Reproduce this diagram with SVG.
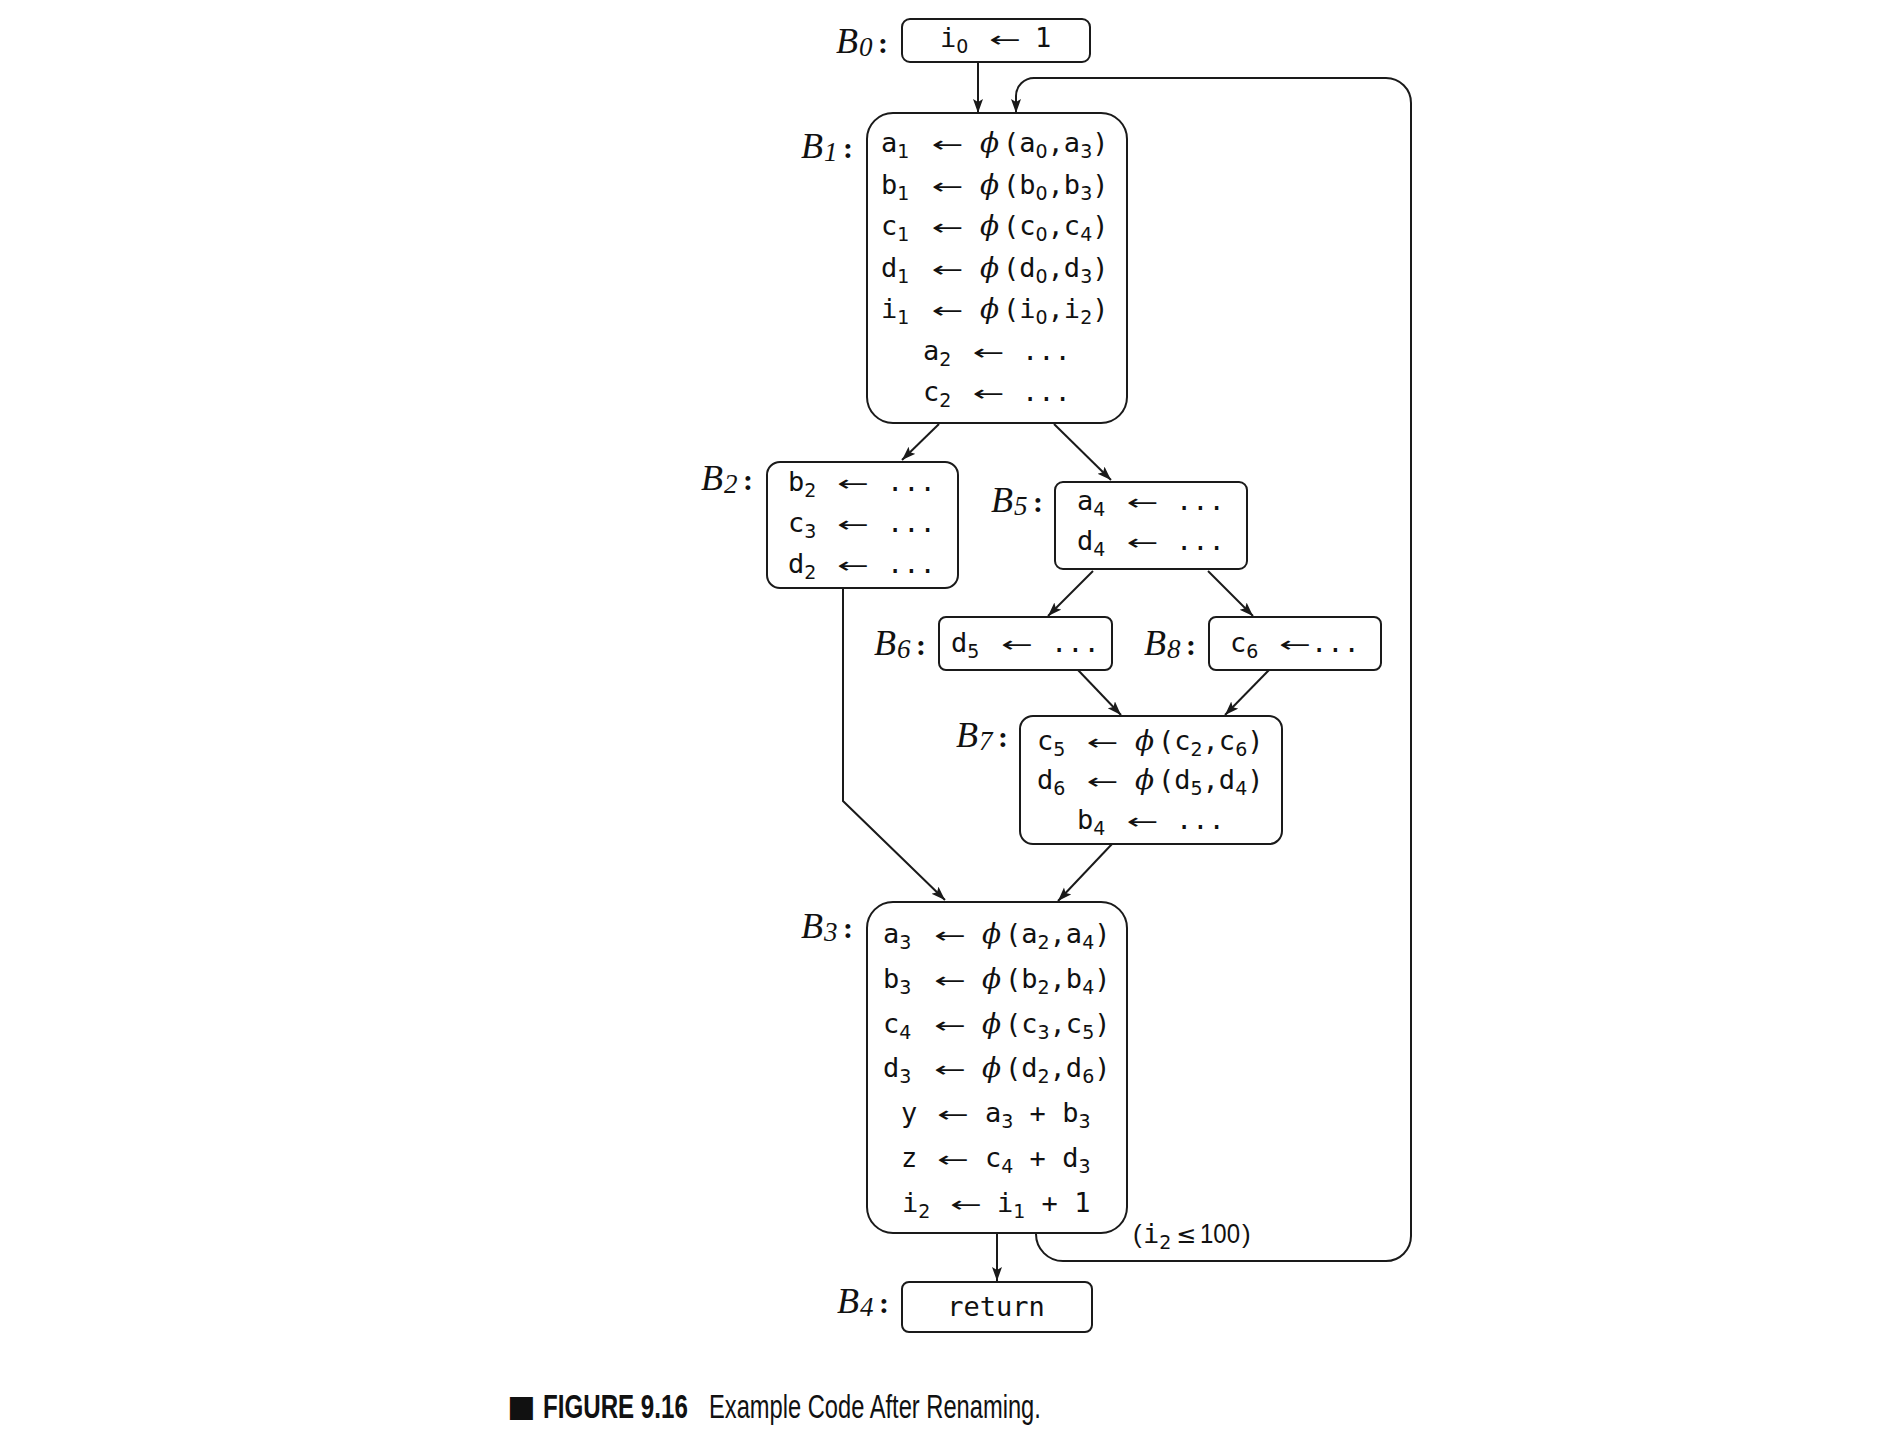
<svg xmlns="http://www.w3.org/2000/svg" width="1904" height="1440" viewBox="0 0 1904 1440">
<style>
.box{fill:#fff;stroke:#1a1a1a;stroke-width:2}
.edge{fill:none;stroke:#1a1a1a;stroke-width:2}
.c{font-family:"DejaVu Sans Mono",monospace;font-size:27px;fill:#111;white-space:pre}
.s{font-family:"DejaVu Sans",sans-serif;font-size:19px}
.ar{font-family:"DejaVu Sans",sans-serif;font-size:22px;fill:#111;text-anchor:middle}
.phi{font-family:"DejaVu Serif",serif;font-style:italic;font-size:28px}
.lb{font-family:"Liberation Serif",serif;font-style:italic;font-size:36px;fill:#111}
.ls{font-size:27px}
.col{font-family:"Liberation Serif",serif;font-style:normal;font-weight:bold;font-size:30px;fill:#111}
.cap{font-family:"Liberation Sans",sans-serif;font-size:34px;fill:#111}
</style>
<defs>
<marker id="ah" markerUnits="userSpaceOnUse" markerWidth="16" markerHeight="12" refX="14" refY="5" orient="auto">
<path d="M0,0 L14,5 L0,10 L3,5 z" fill="#1a1a1a"/>
</marker>
</defs>

<g id="edges">
<path class="edge" marker-end="url(#ah)" d="M978 62 V113"/>
<path class="edge" marker-end="url(#ah)" d="M1036 1234 A27 27 0 0 0 1063 1261 H1386 A25 25 0 0 0 1411 1236 V103 A25 25 0 0 0 1386 78 H1034 A18 18 0 0 0 1016 96 V113"/>
<path class="edge" marker-end="url(#ah)" d="M939 424 L902 460"/>
<path class="edge" marker-end="url(#ah)" d="M1054 424 L1111 480"/>
<path class="edge" marker-end="url(#ah)" d="M843 588 V801 L945 900"/>
<path class="edge" marker-end="url(#ah)" d="M1093 571 L1048 616"/>
<path class="edge" marker-end="url(#ah)" d="M1208 571 L1253 616"/>
<path class="edge" marker-end="url(#ah)" d="M1078 670 L1121 715"/>
<path class="edge" marker-end="url(#ah)" d="M1269 670 L1225 715"/>
<path class="edge" marker-end="url(#ah)" d="M1112 844 L1058 901"/>
<path class="edge" marker-end="url(#ah)" d="M997 1234 V1281"/>
<text class="c" y="1243"><tspan x="1133" style="font-family:'Liberation Sans',sans-serif;font-size:26px">(</tspan><tspan x="1143">i</tspan><tspan class="s" y="1249">2</tspan><tspan x="1176" y="1243" style="font-family:'DejaVu Sans',sans-serif;font-size:24px">≤</tspan><tspan x="1200" style="font-family:'Liberation Sans',sans-serif;font-size:27px" textLength="40" lengthAdjust="spacingAndGlyphs">100</tspan><tspan x="1242" style="font-family:'Liberation Sans',sans-serif;font-size:26px">)</tspan></text>
</g>

<g id="B0">
<rect class="box" x="902" y="19" width="188" height="43" rx="8"/>
<text class="lb" x="836" y="53">B<tspan class="ls" dx="1" y="56">0</tspan></text><text class="col" x="878" y="53">:</text>
<text class="c" y="47"><tspan x="940">i</tspan><tspan class="s" y="53">0</tspan><tspan x="1035" y="47">1</tspan></text>
<text class="ar" x="1005" y="47" textLength="32" lengthAdjust="spacingAndGlyphs">←</text>
</g>

<g id="B1">
<rect class="box" x="867" y="113" width="260" height="310" rx="26"/>
<text class="lb" x="801" y="158">B<tspan class="ls" dx="1" y="161">1</tspan></text><text class="col" x="843" y="158">:</text>
<text class="c" y="152"><tspan x="881">a</tspan><tspan class="s" y="158">1</tspan><tspan class="phi" x="980" y="152">ϕ</tspan><tspan x="1003">(a</tspan><tspan class="s" y="158">0</tspan><tspan y="152">,a</tspan><tspan class="s" y="158">3</tspan><tspan y="152">)</tspan></text>
<text class="ar" x="947.5" y="152" textLength="32" lengthAdjust="spacingAndGlyphs">←</text>
<text class="c" y="194"><tspan x="881">b</tspan><tspan class="s" y="200">1</tspan><tspan class="phi" x="980" y="194">ϕ</tspan><tspan x="1003">(b</tspan><tspan class="s" y="200">0</tspan><tspan y="194">,b</tspan><tspan class="s" y="200">3</tspan><tspan y="194">)</tspan></text>
<text class="ar" x="947.5" y="194" textLength="32" lengthAdjust="spacingAndGlyphs">←</text>
<text class="c" y="235"><tspan x="881">c</tspan><tspan class="s" y="241">1</tspan><tspan class="phi" x="980" y="235">ϕ</tspan><tspan x="1003">(c</tspan><tspan class="s" y="241">0</tspan><tspan y="235">,c</tspan><tspan class="s" y="241">4</tspan><tspan y="235">)</tspan></text>
<text class="ar" x="947.5" y="235" textLength="32" lengthAdjust="spacingAndGlyphs">←</text>
<text class="c" y="277"><tspan x="881">d</tspan><tspan class="s" y="283">1</tspan><tspan class="phi" x="980" y="277">ϕ</tspan><tspan x="1003">(d</tspan><tspan class="s" y="283">0</tspan><tspan y="277">,d</tspan><tspan class="s" y="283">3</tspan><tspan y="277">)</tspan></text>
<text class="ar" x="947.5" y="277" textLength="32" lengthAdjust="spacingAndGlyphs">←</text>
<text class="c" y="318"><tspan x="881">i</tspan><tspan class="s" y="324">1</tspan><tspan class="phi" x="980" y="318">ϕ</tspan><tspan x="1003">(i</tspan><tspan class="s" y="324">0</tspan><tspan y="318">,i</tspan><tspan class="s" y="324">2</tspan><tspan y="318">)</tspan></text>
<text class="ar" x="947.5" y="318" textLength="32" lengthAdjust="spacingAndGlyphs">←</text>
<text class="c" y="360"><tspan x="923">a</tspan><tspan class="s" y="366">2</tspan><tspan x="1022" y="360">...</tspan></text>
<text class="ar" x="988.5" y="360" textLength="32" lengthAdjust="spacingAndGlyphs">←</text>
<text class="c" y="401"><tspan x="923">c</tspan><tspan class="s" y="407">2</tspan><tspan x="1022" y="401">...</tspan></text>
<text class="ar" x="988.5" y="401" textLength="32" lengthAdjust="spacingAndGlyphs">←</text>
</g>

<g id="B2">
<rect class="box" x="767" y="462" width="191" height="126" rx="13"/>
<text class="lb" x="701" y="490">B<tspan class="ls" dx="1" y="493">2</tspan></text><text class="col" x="743" y="490">:</text>
<text class="c" y="491"><tspan x="788">b</tspan><tspan class="s" y="497">2</tspan><tspan x="887" y="491">...</tspan></text>
<text class="ar" x="853" y="491" textLength="32" lengthAdjust="spacingAndGlyphs">←</text>
<text class="c" y="532"><tspan x="788">c</tspan><tspan class="s" y="538">3</tspan><tspan x="887" y="532">...</tspan></text>
<text class="ar" x="853" y="532" textLength="32" lengthAdjust="spacingAndGlyphs">←</text>
<text class="c" y="573"><tspan x="788">d</tspan><tspan class="s" y="579">2</tspan><tspan x="887" y="573">...</tspan></text>
<text class="ar" x="853" y="573" textLength="32" lengthAdjust="spacingAndGlyphs">←</text>
</g>

<g id="B5">
<rect class="box" x="1055" y="482" width="192" height="87" rx="8"/>
<text class="lb" x="991" y="512">B<tspan class="ls" dx="1" y="515">5</tspan></text><text class="col" x="1033" y="512">:</text>
<text class="c" y="510"><tspan x="1077">a</tspan><tspan class="s" y="516">4</tspan><tspan x="1176" y="510">...</tspan></text>
<text class="ar" x="1142.5" y="510" textLength="32" lengthAdjust="spacingAndGlyphs">←</text>
<text class="c" y="550"><tspan x="1077">d</tspan><tspan class="s" y="556">4</tspan><tspan x="1176" y="550">...</tspan></text>
<text class="ar" x="1142.5" y="550" textLength="32" lengthAdjust="spacingAndGlyphs">←</text>
</g>

<g id="B6">
<rect class="box" x="939" y="617" width="173" height="53" rx="7"/>
<text class="lb" x="874" y="655">B<tspan class="ls" dx="1" y="658">6</tspan></text><text class="col" x="916" y="655">:</text>
<text class="c" y="652"><tspan x="951">d</tspan><tspan class="s" y="658">5</tspan><tspan x="1051" y="652">...</tspan></text>
<text class="ar" x="1017" y="652" textLength="32" lengthAdjust="spacingAndGlyphs">←</text>
</g>

<g id="B8">
<rect class="box" x="1209" y="617" width="172" height="53" rx="7"/>
<text class="lb" x="1144" y="655">B<tspan class="ls" dx="1" y="658">8</tspan></text><text class="col" x="1186" y="655">:</text>
<text class="c" y="652"><tspan x="1230">c</tspan><tspan class="s" y="658">6</tspan><tspan x="1311" y="652">...</tspan></text>
<text class="ar" x="1295" y="652" textLength="32" lengthAdjust="spacingAndGlyphs">←</text>
</g>

<g id="B7">
<rect class="box" x="1020" y="716" width="262" height="128" rx="13"/>
<text class="lb" x="956" y="747">B<tspan class="ls" dx="1" y="750">7</tspan></text><text class="col" x="998" y="747">:</text>
<text class="c" y="750"><tspan x="1037">c</tspan><tspan class="s" y="756">5</tspan><tspan class="phi" x="1135" y="750">ϕ</tspan><tspan x="1158">(c</tspan><tspan class="s" y="756">2</tspan><tspan y="750">,c</tspan><tspan class="s" y="756">6</tspan><tspan y="750">)</tspan></text>
<text class="ar" x="1102.5" y="750" textLength="32" lengthAdjust="spacingAndGlyphs">←</text>
<text class="c" y="789"><tspan x="1037">d</tspan><tspan class="s" y="795">6</tspan><tspan class="phi" x="1135" y="789">ϕ</tspan><tspan x="1158">(d</tspan><tspan class="s" y="795">5</tspan><tspan y="789">,d</tspan><tspan class="s" y="795">4</tspan><tspan y="789">)</tspan></text>
<text class="ar" x="1102.5" y="789" textLength="32" lengthAdjust="spacingAndGlyphs">←</text>
<text class="c" y="829"><tspan x="1077">b</tspan><tspan class="s" y="835">4</tspan><tspan x="1176" y="829">...</tspan></text>
<text class="ar" x="1142.5" y="829" textLength="32" lengthAdjust="spacingAndGlyphs">←</text>
</g>

<g id="B3">
<rect class="box" x="867" y="902" width="260" height="331" rx="26"/>
<text class="lb" x="801" y="938">B<tspan class="ls" dx="1" y="941">3</tspan></text><text class="col" x="843" y="938">:</text>
<text class="c" y="943"><tspan x="883">a</tspan><tspan class="s" y="949">3</tspan><tspan class="phi" x="982" y="943">ϕ</tspan><tspan x="1005">(a</tspan><tspan class="s" y="949">2</tspan><tspan y="943">,a</tspan><tspan class="s" y="949">4</tspan><tspan y="943">)</tspan></text>
<text class="ar" x="950" y="943" textLength="32" lengthAdjust="spacingAndGlyphs">←</text>
<text class="c" y="988"><tspan x="883">b</tspan><tspan class="s" y="994">3</tspan><tspan class="phi" x="982" y="988">ϕ</tspan><tspan x="1005">(b</tspan><tspan class="s" y="994">2</tspan><tspan y="988">,b</tspan><tspan class="s" y="994">4</tspan><tspan y="988">)</tspan></text>
<text class="ar" x="950" y="988" textLength="32" lengthAdjust="spacingAndGlyphs">←</text>
<text class="c" y="1033"><tspan x="883">c</tspan><tspan class="s" y="1039">4</tspan><tspan class="phi" x="982" y="1033">ϕ</tspan><tspan x="1005">(c</tspan><tspan class="s" y="1039">3</tspan><tspan y="1033">,c</tspan><tspan class="s" y="1039">5</tspan><tspan y="1033">)</tspan></text>
<text class="ar" x="950" y="1033" textLength="32" lengthAdjust="spacingAndGlyphs">←</text>
<text class="c" y="1077"><tspan x="883">d</tspan><tspan class="s" y="1083">3</tspan><tspan class="phi" x="982" y="1077">ϕ</tspan><tspan x="1005">(d</tspan><tspan class="s" y="1083">2</tspan><tspan y="1077">,d</tspan><tspan class="s" y="1083">6</tspan><tspan y="1077">)</tspan></text>
<text class="ar" x="950" y="1077" textLength="32" lengthAdjust="spacingAndGlyphs">←</text>
<text class="c" y="1122"><tspan x="901">y</tspan><tspan x="985">a</tspan><tspan class="s" y="1128">3</tspan><tspan y="1122"> + b</tspan><tspan class="s" y="1128">3</tspan></text>
<text class="ar" x="953" y="1122" textLength="32" lengthAdjust="spacingAndGlyphs">←</text>
<text class="c" y="1167"><tspan x="901">z</tspan><tspan x="985">c</tspan><tspan class="s" y="1173">4</tspan><tspan y="1167"> + d</tspan><tspan class="s" y="1173">3</tspan></text>
<text class="ar" x="953" y="1167" textLength="32" lengthAdjust="spacingAndGlyphs">←</text>
<text class="c" y="1212"><tspan x="902">i</tspan><tspan class="s" y="1218">2</tspan><tspan x="997" y="1212">i</tspan><tspan class="s" y="1218">1</tspan><tspan y="1212"> + 1</tspan></text>
<text class="ar" x="966" y="1212" textLength="32" lengthAdjust="spacingAndGlyphs">←</text>
</g>

<g id="B4">
<rect class="box" x="902" y="1282" width="190" height="50" rx="7"/>
<text class="lb" x="837" y="1313">B<tspan class="ls" dx="1" y="1316">4</tspan></text><text class="col" x="879" y="1313">:</text>
<text class="c" x="996" y="1316" text-anchor="middle">return</text>
</g>

<g id="caption">
<text x="507" y="1416" style="font-family:'DejaVu Sans',sans-serif;font-size:30px;fill:#111">■</text>
<text class="cap" transform="translate(543,1418) scale(0.71,1)" font-weight="bold">FIGURE 9.16</text>
<text class="cap" transform="translate(709,1418) scale(0.697,1)">Example Code After Renaming.</text>
</g>
</svg>
